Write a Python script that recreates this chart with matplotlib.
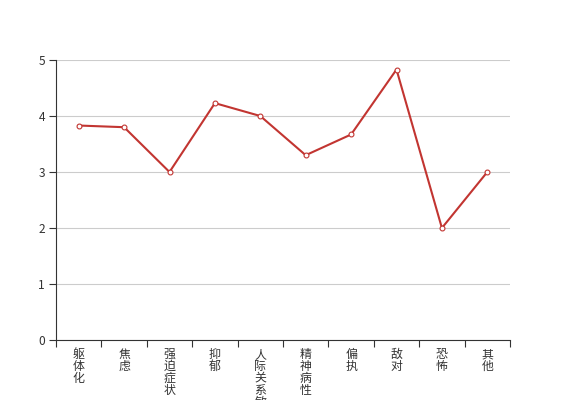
import matplotlib
matplotlib.use("Agg")
import matplotlib.pyplot as plt
import numpy as np

plt.rcParams['font.family'] = ['Noto Sans CJK SC', 'DejaVu Sans']

categories = ["躯体化", "焦虑", "强迫症状", "抑郁", "人际关系敏感", "精神病性", "偏执", "敌对", "恐怖", "其他"]
values = [3.83, 3.8, 3.0, 4.23, 4.0, 3.3, 3.67, 4.83, 2.0, 3.0]
y_ticks = [0, 1, 2, 3, 4, 5]

fig = plt.figure(figsize=(5.67, 4.0), dpi=100)
ax = fig.add_axes([56/567, 60/400, (510-56)/567, 280/400])

x = np.arange(len(categories))
ax.plot(x, values, color='#c23531', lw=1.5, marker='o', markersize=3.5,
        markerfacecolor='white', markeredgecolor='#c23531', markeredgewidth=0.8, zorder=3,
        clip_on=False)

ax.set_xlim(-0.5, len(categories) - 0.5)
ax.set_ylim(0, 5)
ax.set_yticks(y_ticks)
ax.set_yticklabels([str(v) for v in y_ticks])
ax.yaxis.grid(True, color='#cccccc', lw=0.8)
ax.set_axisbelow(True)

ax.set_xticks(x)
ax.set_xticklabels(["\n".join(c) for c in categories], va='top', linespacing=0.88)
ax.set_xticks(np.arange(len(categories) + 1) - 0.5, minor=True)
ax.tick_params(axis='x', which='major', length=0, pad=6, labelsize=8.6, colors='#333333')
ax.tick_params(axis='x', which='minor', length=5, color='#333333', width=0.8)
ax.tick_params(axis='y', length=5, color='#333333', width=0.8, labelsize=8.6, labelcolor='#333333', pad=3)

for s in ['top', 'right']:
    ax.spines[s].set_visible(False)
ax.spines['left'].set_color('#333333')
ax.spines['bottom'].set_color('#333333')
ax.spines['left'].set_linewidth(0.8)
ax.spines['bottom'].set_linewidth(0.8)

fig.savefig('out.png', dpi=100)
